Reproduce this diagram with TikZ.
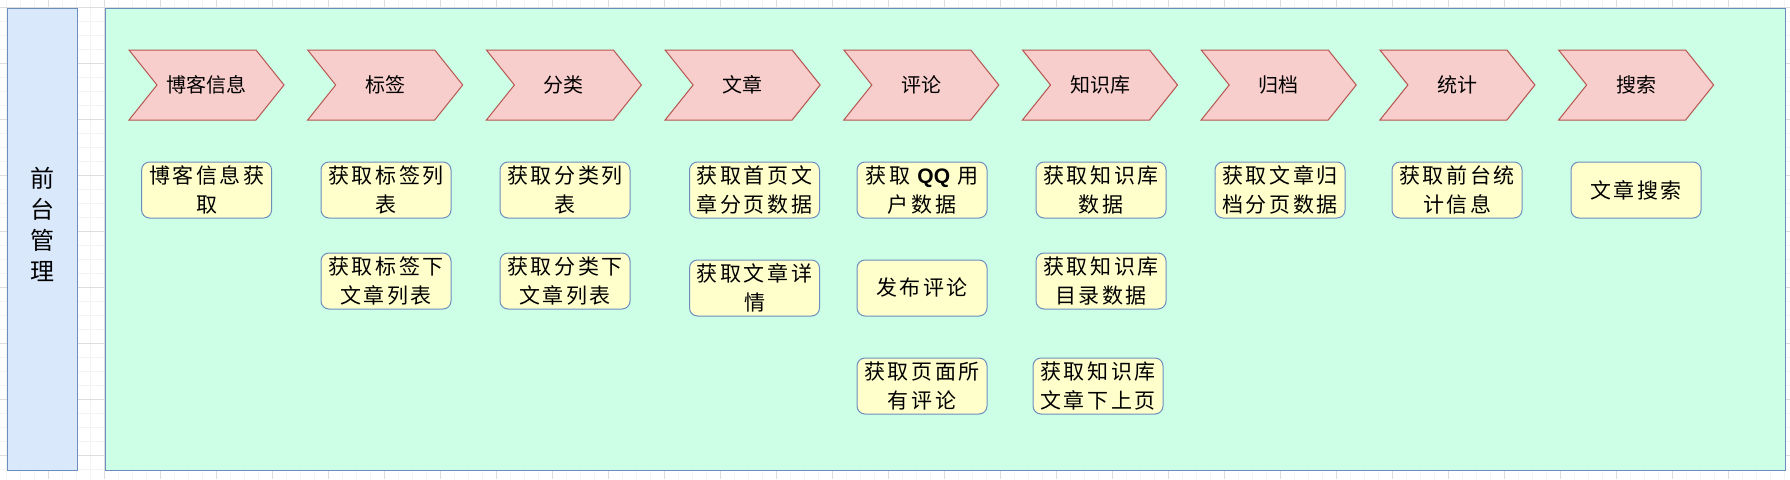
\documentclass[tikz,border=0pt]{standalone}
\usepackage{fontspec}
\setmainfont{Noto Sans CJK SC}
\newfontfamily\boxfont{Noto Sans CJK SC}[LetterSpace=12]
\newfontfamily\qqfont{Liberation Sans}
\definecolor{sidefill}{HTML}{DAE8FC}
\definecolor{bluestroke}{HTML}{6C8EBF}
\definecolor{mainfill}{HTML}{CCFFE6}
\definecolor{chevfill}{HTML}{F8CECC}
\definecolor{chevstroke}{HTML}{B85450}
\definecolor{yfill}{HTML}{FFFFCC}
\definecolor{gridminor}{HTML}{F3F3F3}
\definecolor{gridmajor}{HTML}{DDDDDD}
\tikzset{
  panel/.style={draw=bluestroke, line width=1.2pt, anchor=north west, inner sep=0pt},
  chevshape/.style={draw=chevstroke, fill=chevfill, line width=1pt, line join=miter},
  chevtext/.style={font={\fontsize{20}{24}\selectfont}, inner sep=0pt},
  ybox/.style={draw=bluestroke, fill=yfill, line width=1pt, rounded corners=8pt,
    minimum width=130pt, minimum height=56pt, inner sep=0pt, align=center,
    font={\boxfont\fontsize{21}{28.5}\selectfont}},
}
\begin{document}
\begin{tikzpicture}[x=1pt,y=-1pt]
\useasboundingbox (0,0) rectangle (1790,479);
\fill[white] (0,0) rectangle (1790,479);
% background grid
\foreach \k in {0,...,127} {
  \draw[gridminor, line width=0.8pt] ({6.3+14*\k},0) -- ({6.3+14*\k},479);
}
\foreach \k in {0,...,34} {
  \draw[gridminor, line width=0.8pt] (0,{7+14*\k}) -- (1790,{7+14*\k});
}
\foreach \k in {0,...,31} {
  \draw[gridmajor, line width=0.8pt] ({48.3+56*\k-56},0) -- ({48.3+56*\k-56},479);
}
\foreach \k in {0,...,8} {
  \draw[gridmajor, line width=0.8pt] (0,{7+56*\k}) -- (1790,{7+56*\k});
}
% panels
\node[panel, fill=sidefill, minimum width=70pt, minimum height=462pt] (side) at (7,8) {};
\node[align=center, font={\fontsize{24}{31}\selectfont}, inner sep=0pt] (sidelabel) at (42,224) {前\\台\\管\\理};
\node[panel, fill=mainfill, minimum width=1680pt, minimum height=462pt] (main) at (105,8) {};
% chevrons
\foreach \lbl [count=\i from 0] in {博客信息,标签,分类,文章,评论,知识库,归档,统计,搜索} {
  \pgfmathsetmacro\xa{129+178.7*\i}
  \draw[chevshape] (\xa,50) -- ++(127,0) -- ++(28,35) -- ++(-28,35) -- ++(-127,0) -- ++(28,-35) -- cycle;
  \node[chevtext] (c\i) at ({\xa+77.5},85) {\lbl};
}
% function boxes
\node[ybox] (b0a) at (206.6,190) {博客信息获\\取};
\node[ybox] (b1a) at (386,190) {获取标签列\\表};
\node[ybox] (b1b) at (386,281) {获取标签下\\文章列表};
\node[ybox] (b2a) at (565,190) {获取分类列\\表};
\node[ybox] (b2b) at (565,281) {获取分类下\\文章列表};
\node[ybox] (b3a) at (754.5,190) {获取首页文\\章分页数据};
\node[ybox] (b3b) at (754.5,288) {获取文章详\\情};
\node[ybox] (b4a) at (922,190) {获取 {\qqfont\bfseries QQ} 用\\户数据};
\node[ybox] (b4b) at (922,288) {发布评论};
\node[ybox] (b4c) at (922,386) {获取页面所\\有评论};
\node[ybox] (b5a) at (1101,190) {获取知识库\\数据};
\node[ybox] (b5b) at (1101,281) {获取知识库\\目录数据};
\node[ybox] (b5c) at (1098,386) {获取知识库\\文章下上页};
\node[ybox] (b6a) at (1280,190) {获取文章归\\档分页数据};
\node[ybox] (b7a) at (1457,190) {获取前台统\\计信息};
\node[ybox] (b8a) at (1636,190) {文章搜索};
\end{tikzpicture}
\end{document}
